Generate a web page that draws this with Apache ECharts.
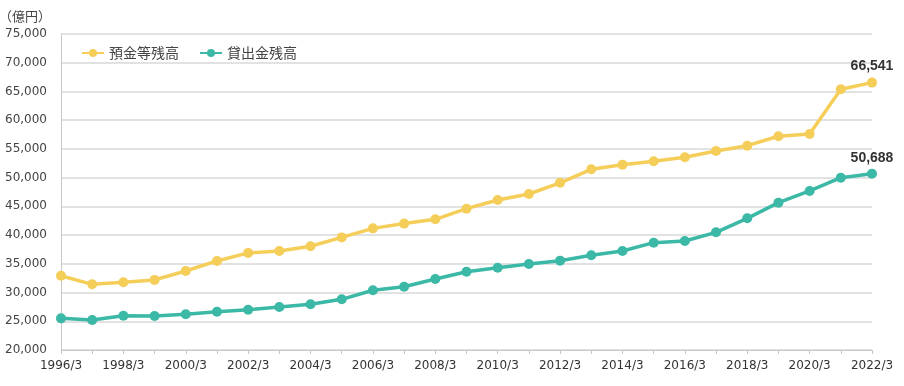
<!DOCTYPE html>
<html><head><meta charset="utf-8">
<script src="https://cdn.jsdelivr.net/npm/echarts@6/dist/echarts.min.js"></script>
<style>html,body{margin:0;padding:0;background:#fff;}#c{width:904px;height:386px;}</style>
</head><body><div id="c"></div>
<script>
const categories = ['1996/3','1997/3','1998/3','1999/3','2000/3','2001/3','2002/3','2003/3','2004/3','2005/3','2006/3','2007/3','2008/3','2009/3','2010/3','2011/3','2012/3','2013/3','2014/3','2015/3','2016/3','2017/3','2018/3','2019/3','2020/3','2021/3','2022/3'];
const deposits = [32930,31430,31800,32200,33750,35500,36900,37230,38050,39600,41170,42000,42750,44600,46100,47150,49100,51450,52260,52840,53540,54640,55560,57200,57600,65380,66541];
const loans = [25510,25220,25970,25920,26210,26670,27020,27480,27950,28820,30390,31020,32360,33630,34330,34970,35550,36480,37230,38680,38970,40480,42920,45640,47680,49990,50688];
const seriesNames = ['預金等残高','貸出金残高'];
const unitLabel = '（億円）';

const font = '"DejaVu Sans", sans-serif';
const chart = echarts.init(document.getElementById('c'));
function lastLabel(){
  return {show:true, position:'top', distance:4, color:'#333', fontWeight:'bold', fontSize:14,
    fontFamily:'"Liberation Sans", Arial, sans-serif',
    formatter:p => p.dataIndex === categories.length-1 ? p.value.toLocaleString('en-US') : ''};
}
chart.setOption({
  animation:false,
  grid:{left:61,right:32,top:34,bottom:36},
  title:{text:unitLabel,left:-6,top:5,textStyle:{fontSize:13,fontWeight:'normal',color:'#444',fontFamily:'"Noto Sans CJK JP", sans-serif'}},
  legend:{left:76,top:41,itemWidth:22,itemHeight:10,itemGap:20,
    textStyle:{fontSize:14,color:'#444',fontFamily:'"Noto Sans CJK JP", sans-serif'},
    data:seriesNames},
  xAxis:{type:'category',data:categories,boundaryGap:false,
    axisLine:{lineStyle:{color:'#c8c8c8'}},
    axisTick:{show:true,alignWithLabel:true,interval:0,lineStyle:{color:'#c8c8c8'},length:4},
    axisLabel:{interval:1,color:'#333',fontSize:12,fontFamily:font,margin:10}},
  yAxis:{type:'value',min:20000,max:75000,interval:5000,
    axisLine:{show:true,lineStyle:{color:'#c8c8c8'}},
    axisTick:{show:false},
    splitLine:{lineStyle:{color:'#d9d9d9',width:1.5}},
    axisLabel:{color:'#444',fontSize:12,fontFamily:font,margin:14,
      formatter:v=>v.toLocaleString('en-US')}},
  series:[
    {name:seriesNames[0],type:'line',data:deposits,symbol:'circle',symbolSize:10,
      lineStyle:{width:3.5,color:'#F5CE5A'},itemStyle:{color:'#F5CE5A'},label:lastLabel()},
    {name:seriesNames[1],type:'line',data:loans,symbol:'circle',symbolSize:10,
      lineStyle:{width:3.5,color:'#3BB8A6'},itemStyle:{color:'#3BB8A6'},label:lastLabel()}
  ]
});
</script></body></html>
